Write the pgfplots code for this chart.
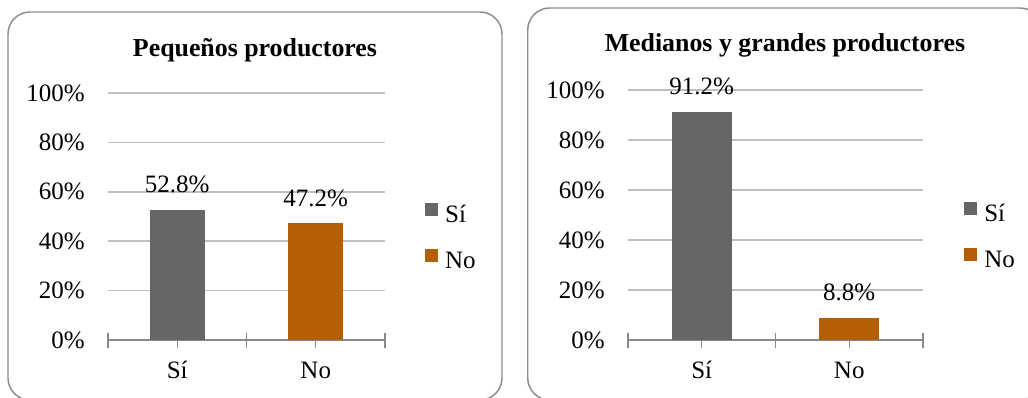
\documentclass[border=0pt]{standalone}
\usepackage{fontspec}
\setmainfont{Liberation Serif}
\usepackage{pgfplots}
\pgfplotsset{compat=1.18}

\definecolor{barsi}{HTML}{666666}
\definecolor{barno}{HTML}{B45F06}
\definecolor{gridc}{HTML}{BFBFBF}
\definecolor{axisc}{HTML}{898989}
\definecolor{framec}{HTML}{8C8C8C}
\newcommand\chartfont{\fontsize{18.75}{22}\selectfont}

\pgfplotsset{
  sqleg/.style={legend image code/.code={\fill[##1] (0pt,0.3pt) rectangle (9.75pt,10.05pt);}},
  panel/.style={
    scale only axis,
    anchor=south west,
    ybar, bar shift=0pt,
    xmin=-0.5, xmax=1.5, ymin=0, ymax=100,
    enlarge x limits=false, enlarge y limits=false,
    axis x line*=bottom, axis y line*=left,
    y axis line style={draw=none},
    x axis line style={axisc, line width=1.1pt},
    xtick={-0.5,0,0.5,1,1.5}, xticklabels={,Sí,,No,},
    ytick={0,20,...,100},
    ymajorgrids, grid style={gridc, line width=1.1pt},
    tick align=center, major tick length=11.25pt,
    xtick style={axisc, line width=1.1pt},
    ytick style={draw=none},
    /pgf/number format/assume math mode=true,
    yticklabel={\pgfmathprintnumber{\tick}\%},
    yticklabel style={font=\chartfont, anchor=east, inner sep=0pt, xshift=-11.6pt},
    xticklabel style={font=\chartfont, anchor=base, inner sep=0pt, yshift=-23pt},
    nodes near coords={\pgfmathprintnumber[fixed,fixed zerofill,precision=1]{\pgfplotspointmeta}\%},
    every node near coord/.append style={font=\chartfont, anchor=base, inner sep=0pt, yshift=13pt, text=black},
    legend style={draw=none, fill=none, inner sep=0pt, font=\chartfont,
      row sep=16pt, column sep=5.25pt, anchor=north west,
      nodes={inner sep=0pt, text height=13pt, text depth=4pt}},
    legend cell align=left,
  },
}

\begin{document}
\begin{tikzpicture}
\useasboundingbox (0,0) rectangle (771pt,297.75pt);

% panel frames
\draw[framec, line width=1.1pt, rounded corners=16.5pt] (6pt,288.75pt) rectangle (376.5pt,-2.25pt);
\draw[framec, line width=1.1pt, rounded corners=16.5pt] (395.8pt,291.75pt) rectangle (781.5pt,-2.25pt);

% titles
\node[anchor=base, font=\fontsize{19.4}{22}\selectfont\bfseries] at (191.25pt,255pt) {Pequeños productores};
\node[anchor=base, font=\fontsize{19.4}{22}\selectfont\bfseries] at (588.75pt,258.75pt) {Medianos y grandes productores};

% small producers
\begin{axis}[panel, at={(81pt,42.75pt)}, width=207.75pt, height=185.25pt,
  bar width=0.4, legend style={at={(1.144,0.555)}}]
\addplot[fill=barsi, draw=none, bar shift=0pt, sqleg] coordinates {(0,52.8)};
\addlegendentry{Sí}
\addplot[fill=barno, draw=none, bar shift=0pt, sqleg] coordinates {(1,47.2)};
\addlegendentry{No}
\end{axis}

% medium and large producers
\begin{axis}[panel, at={(471pt,42.75pt)}, width=221.25pt, height=187.5pt,
  bar width=0.41, legend style={at={(1.139,0.552)}}]
\addplot[fill=barsi, draw=none, bar shift=0pt, sqleg] coordinates {(0,91.2)};
\addlegendentry{Sí}
\addplot[fill=barno, draw=none, bar shift=0pt, sqleg] coordinates {(1,8.8)};
\addlegendentry{No}
\end{axis}
\end{tikzpicture}
\end{document}
